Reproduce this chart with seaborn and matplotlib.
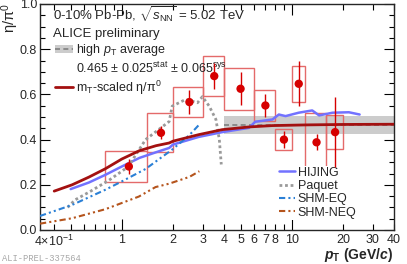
import numpy as np
import pandas as pd
import matplotlib
matplotlib.use("Agg")
import matplotlib.pyplot as plt
from matplotlib.patches import Patch
from matplotlib.lines import Line2D
from matplotlib.ticker import FixedLocator, FixedFormatter
import seaborn as sns

# eta/pi0 data points, 0-10% Pb-Pb
bin_lo = [0.8, 1.4, 2.0, 3.0, 4.0, 6.0, 8.0, 10.0, 12.0, 16.0]
bin_hi = [1.4, 2.0, 3.0, 4.0, 6.0, 8.0, 10.0, 12.0, 16.0, 20.0]
pt = [1.1, 1.7, 2.5, 3.5, 5.0, 7.0, 9.0, 11.0, 14.0, 18.0]
ratio = [0.281, 0.430, 0.566, 0.681, 0.625, 0.551, 0.400, 0.647, 0.388, 0.433]
stat = [0.031, 0.028, 0.054, 0.058, 0.074, 0.050, 0.037, 0.100, 0.035, 0.154]
sys_err = [0.070, 0.087, 0.068, 0.090, 0.093, 0.069, 0.048, 0.079, 0.128, 0.074]

# high pT average
avg_val = 0.465
avg_band = 0.040
avg_range = [4.0, 40.0]

# mT scaling
mt_pt = [0.40, 0.51, 0.64, 0.80, 1.0, 1.27, 1.59, 1.9, 2.0, 2.84, 3.9, 5.6, 7.7, 12.1, 20.0, 40.0]
mt_val = [0.172, 0.200, 0.234, 0.271, 0.314, 0.351, 0.373, 0.385, 0.393, 0.422, 0.444, 0.456, 0.462, 0.465, 0.467, 0.468]

# model curves
hij_pt = [0.50, 0.64, 0.80, 1.0, 1.27, 1.59, 1.9, 2.0, 2.84, 3.9, 5.6, 6.1, 7.7, 8.4, 9.2, 11.0, 13.2, 14.5, 17.4, 21.7, 25.1]
hij_val = [0.181, 0.210, 0.244, 0.281, 0.319, 0.344, 0.363, 0.378, 0.412, 0.433, 0.452, 0.479, 0.489, 0.511, 0.504, 0.519, 0.529, 0.507, 0.519, 0.521, 0.511]

paq_pt = [0.48, 0.53, 0.65, 0.84, 1.09, 1.38, 1.9, 1.98, 2.38, 2.79, 2.98, 3.27, 3.58, 3.75, 3.85]
paq_val = [0.100, 0.133, 0.170, 0.220, 0.280, 0.400, 0.480, 0.548, 0.578, 0.563, 0.590, 0.548, 0.489, 0.400, 0.290]

eq_pt = [0.33, 0.51, 0.80, 1.0, 1.38, 1.98, 2.5, 2.86]
eq_val = [0.062, 0.111, 0.178, 0.215, 0.270, 0.356, 0.420, 0.467]

neq_pt = [0.33, 0.51, 0.80, 1.26, 1.58, 1.9, 2.5, 2.86]
neq_val = [0.028, 0.052, 0.092, 0.148, 0.190, 0.205, 0.235, 0.260]

sns.set_theme(style="ticks")
plt.rcParams["font.family"] = ["Liberation Sans", "DejaVu Sans"]
plt.rcParams["mathtext.fontset"] = "custom"
plt.rcParams["mathtext.rm"] = "Liberation Sans"
plt.rcParams["mathtext.it"] = "Liberation Sans:italic"
plt.rcParams["mathtext.bf"] = "Liberation Sans:bold"
plt.rcParams["mathtext.bfit"] = "Liberation Sans:italic:bold"

fig = plt.figure(figsize=(4.07, 2.64), dpi=100)
ax = fig.add_axes([40 / 407, 34 / 264, 354 / 407, 226 / 264])
ax.set_xscale("log")

# high pT average band
ax.fill_between(avg_range, avg_val - avg_band, avg_val + avg_band, color="#cccccc", lw=0, zorder=1)
ax.plot(avg_range, [avg_val, avg_val], ls=(0, (3, 2)), color="#808080", lw=1.2, zorder=2)

# systematic boxes
ax.bar(bin_lo, 2 * np.array(sys_err), width=np.array(bin_hi) - np.array(bin_lo),
       bottom=np.array(ratio) - np.array(sys_err), align="edge", fill=False,
       edgecolor="#e46a6a", lw=1.0, zorder=3)

models = [
    ("HIJING", hij_pt, hij_val, "#7272ff", "-", 1.8),
    ("Paquet", paq_pt, paq_val, "#9a9a9a", (0, (1, 1)), 2.0),
    ("SHM-EQ", eq_pt, eq_val, "#2b80d6", (0, (3, 1.5, 1, 1.5, 1, 1.5)), 1.5),
    ("SHM-NEQ", neq_pt, neq_val, "#b5541c", (0, (3, 1.5, 1, 1.5, 1, 1.5)), 1.5),
]
handles = []
for name, x, y, c, ls, lw in models:
    df = pd.DataFrame({"pt": x, "val": y})
    sns.lineplot(data=df, x="pt", y="val", ax=ax, color=c, lw=lw, linestyle=ls, sort=False, zorder=4)
    handles.append(Line2D([], [], color=c, lw=lw, linestyle=ls))

mt_df = pd.DataFrame({"pt": mt_pt, "val": mt_val})
sns.lineplot(data=mt_df, x="pt", y="val", ax=ax, color="#a31010", lw=2.0, sort=False, zorder=5)

# data points
ax.vlines(pt, np.array(ratio) - np.array(stat), np.array(ratio) + np.array(stat),
          color="#d60000", lw=1.0, zorder=6)
sns.scatterplot(x=pt, y=ratio, ax=ax, color="#d60000", s=36, edgecolor="none", zorder=7)

ax.set_xlim(0.33, 40)
ax.set_ylim(0, 1.0)
ax.set_xlabel("")
ax.set_ylabel("")

ax.xaxis.set_major_locator(FixedLocator([1, 10]))
ax.xaxis.set_major_formatter(FixedFormatter(["1", "10"]))
minor_pos = [0.4, 0.5, 0.6, 0.7, 0.8, 0.9, 2, 3, 4, 5, 6, 7, 8, 9, 20, 30, 40]
minor_lab = ["4$\\times$10$^{-1}$", "", "", "", "", "", "2", "3", "4", "5", "6", "7", "8", "", "20", "30", "40"]
ax.xaxis.set_minor_locator(FixedLocator(minor_pos))
ax.xaxis.set_minor_formatter(FixedFormatter(minor_lab))
ax.set_yticks(np.arange(0, 1.01, 0.2))
ax.set_yticklabels(["0.0", "0.2", "0.4", "0.6", "0.8", "1.0"])
ax.set_yticks(np.arange(0, 1.0, 0.05), minor=True)
ax.tick_params(which="both", direction="in", top=True, right=True, labelsize=9, width=0.8, color="black")
ax.tick_params(axis="x", which="major", length=8, pad=3)
ax.tick_params(axis="x", which="minor", length=4, pad=3)
ax.tick_params(axis="y", which="major", length=7, pad=2)
ax.tick_params(axis="y", which="minor", length=3.5)
for s in ax.spines.values():
    s.set_linewidth(1.0)

ax.text(0.037, 0.925, "0-10% Pb-Pb, $\\sqrt{s_{\\rm NN}}$ = 5.02 TeV", transform=ax.transAxes, fontsize=9.5, va="baseline")
ax.text(0.037, 0.854, "ALICE preliminary", transform=ax.transAxes, fontsize=9.5, va="baseline")

leg1_handles = [
    (Patch(facecolor="#cccccc", edgecolor="none"), Line2D([], [], color="#808080", ls=(0, (3, 2)), lw=1.2)),
    Line2D([], [], color="none"),
    Line2D([], [], color="#a31010", lw=2.0),
]
leg1_labels = ["high $p_{\\rm T}$ average",
               "0.465 $\\pm$ 0.025$^{\\rm stat}$ $\\pm$ 0.065$^{\\rm sys}$",
               "$\\mathrm{m_{T}}$-scaled $\\mathrm{\\eta/\\pi^{0}}$"]
leg1 = ax.legend(leg1_handles, leg1_labels, loc="upper left", bbox_to_anchor=(0.042, 0.83),
                 frameon=False, fontsize=9, borderpad=0, borderaxespad=0,
                 handlelength=1.45, handletextpad=0.25, labelspacing=0.2)
ax.add_artist(leg1)

ax.legend(handles, [m[0] for m in models], loc="upper left", bbox_to_anchor=(0.672, 0.285),
          frameon=True, facecolor="white", edgecolor="none", framealpha=1, fancybox=False,
          fontsize=9, borderpad=0.1, borderaxespad=0, handlelength=1.3,
          handletextpad=0.2, labelspacing=0.1)

fig.text(10.5 / 407, 1 - 3 / 264, "$\\mathrm{\\eta/\\pi^{0}}$", rotation=90, ha="center", va="top", fontsize=10.5)
fig.text(393 / 407, 5 / 264, "$\\mathbfit{p}_{\\mathbf{T}}$ (GeV/$\\mathbfit{c}$)", ha="right", va="baseline",
         fontsize=10, fontweight="bold")
fig.text(2 / 407, 3 / 264, "ALI-PREL-337564", family="Liberation Mono", fontsize=6.3, color="#a8a8a8")

fig.savefig("out.png", dpi=100)
